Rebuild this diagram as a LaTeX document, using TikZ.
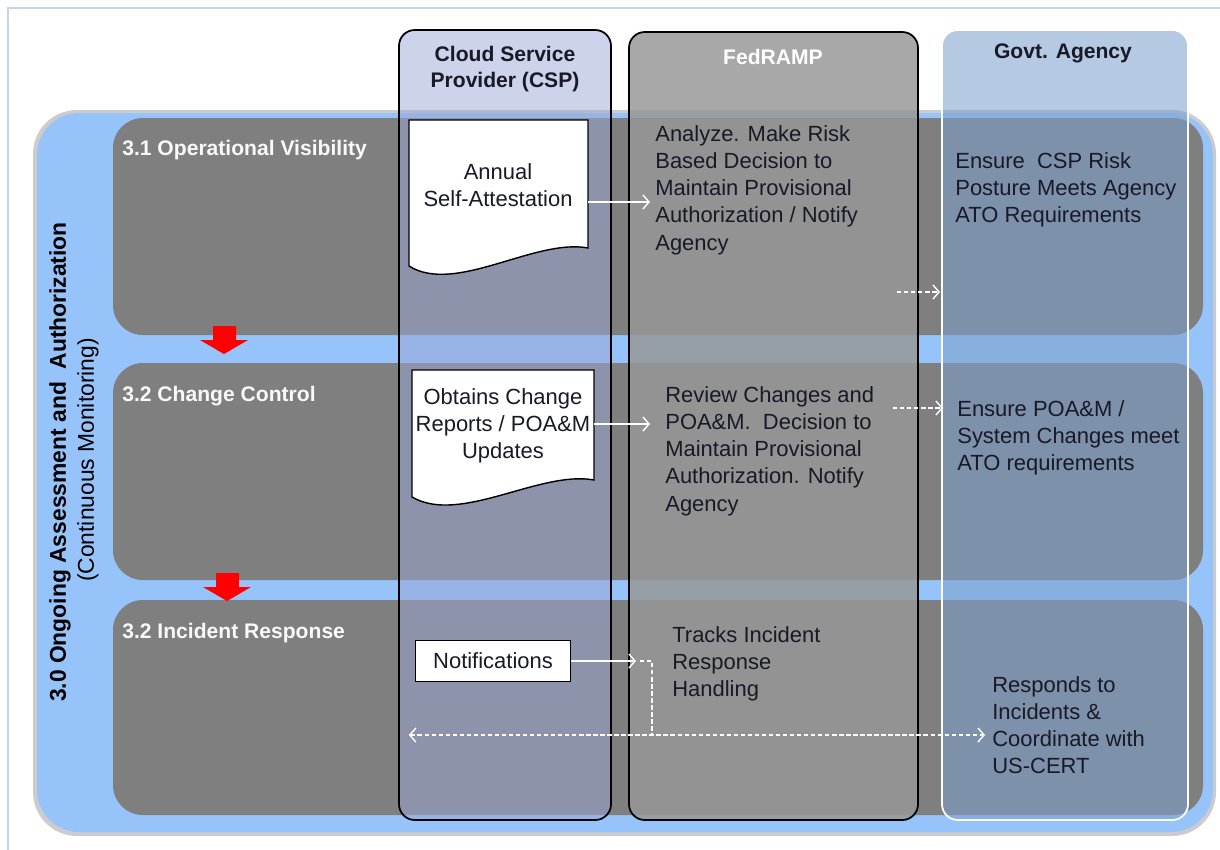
\documentclass[tikz,border=0pt]{standalone}
\usepackage{fontspec}
\setmainfont{Liberation Sans}
\usetikzlibrary{calc,arrows.meta}

\definecolor{laneblue}{RGB}{150,195,250}
\definecolor{lanegray}{RGB}{127,127,127}
\definecolor{cspfill}{RGB}{155,167,213}
\definecolor{fedfill}{RGB}{151,151,151}
\definecolor{govfill}{RGB}{125,160,204}
\definecolor{framecol}{RGB}{195,212,235}
\definecolor{inkcol}{RGB}{25,25,40}

\tikzset{
  lane/.style={fill=lanegray, rounded corners=17pt},
  lanetitle/.style={anchor=west, inner sep=0pt, text=white!95!gray, font=\fontsize{12}{15}\selectfont\bfseries},
  head/.style={inner sep=0pt, align=center, font=\fontsize{12}{15.3}\selectfont\bfseries},
  body/.style={anchor=north west, inner sep=0pt, align=left, text=inkcol, font=\fontsize{12.5}{15.5}\selectfont},
  doctext/.style={inner sep=0pt, align=center, text=inkcol, font=\fontsize{12.5}{15.3}\selectfont},
  docshape/.style={fill=white, draw=black, line width=0.8pt},
  flow/.style={->, draw=white, line width=0.8pt},
  flowdash/.style={->, draw=white, line width=0.8pt, dash pattern=on 2.5pt off 1.5pt}
}

\begin{document}
\begin{tikzpicture}[x=0.02cm, y=-0.02cm, >={Straight Barb[length=3.5pt,width=8pt]}]
\useasboundingbox (0,0) rectangle (1220,849);
% frame and main band
\draw[framecol, line width=1pt] (8,8) rectangle (1232,860);
\fill[gray!40, rounded corners=25pt] (33,110) rectangle (1216,836);
\fill[laneblue, rounded corners=24pt] (37,113) rectangle (1213,832);

% lanes
\fill[lane] (113,118) rectangle (1203,335);
\fill[lane] (113,363) rectangle (1203,580);
\fill[lane] (113,600) rectangle (1203,815);

% red step arrows
\foreach \ax/\ay in {224/326, 227/573}
  \fill[red] (\ax-11,\ay) -- (\ax+12,\ay) -- (\ax+12,\ay+14) -- (\ax+24,\ay+14)
    -- (\ax,\ay+28) -- (\ax-24,\ay+14) -- (\ax-11,\ay+14) -- cycle;

\node[lanetitle] (vis) at (122,150) {3.1 Operational Visibility};
\node[lanetitle] (chg) at (122,396) {3.2 Change Control};
\node[lanetitle] (inc) at (122,633) {3.2 Incident Response};

\node[rotate=90, inner sep=0pt, text=black, font=\fontsize{13}{15}\selectfont\bfseries] (phase) at (60,462) {3.0 Ongoing Assessment and \ Authorization};
\node[rotate=90, inner sep=0pt, text=black, font=\fontsize{13}{15}\selectfont] (cm) at (88,460) {(Continuous Monitoring)};

% swim columns
\filldraw[fill=cspfill, fill opacity=0.5, draw=black, line width=1pt, rounded corners=9pt] (399,30) rectangle (611,820);
\filldraw[fill=fedfill, fill opacity=0.84, draw=black, line width=1pt, rounded corners=9pt] (629,32) rectangle (918,820);
\filldraw[fill=govfill, fill opacity=0.57, draw=white, line width=1pt, rounded corners=9pt] (942,30) rectangle (1188,820);

\node[head, text=inkcol] (csphead) at (505,69) {Cloud Service\\Provider (CSP)};
\node[head, text=white] (fedhead) at (773,57) {FedRAMP};
\node[head, text=inkcol] (govhead) at (1063,53) {Govt. Agency};

% 3.1
\draw[docshape] (409,120) -- (588,120) -- (588,248) .. controls (535,238) and (455,295) .. (409,266) -- cycle;
\node[doctext, minimum width=3.58cm] (attest) at (498,185) {Annual\\Self-Attestation};
\node[body] (analyze) at (655,125) {Analyze. Make Risk\\Based Decision to\\Maintain Provisional\\Authorization / Notify\\Agency};
\node[body] (ensureA) at (955,152) {Ensure \ CSP Risk\\Posture Meets Agency\\ATO Requirements};
\draw[flow] ($(attest.east)+(0,17)$) -- ($(attest.east -| analyze.west)+(-5,17)$);
\coordinate (fedout1) at (897,292);
\draw[flowdash] (fedout1) -- ($(fedout1 -| ensureA.west)+(-15,0)$);

% 3.2
\draw[docshape] (412,370) -- (594,370) -- (594,480) .. controls (540,470) and (460,525) .. (412,497) -- cycle;
\node[doctext, minimum width=3.64cm] (obtains) at (503,426) {Obtains Change\\Reports / POA\&M\\Updates};
\node[body] (review) at (665,386) {Review Changes and\\POA\&M. \ Decision to\\Maintain Provisional\\Authorization. Notify\\Agency};
\node[body] (ensureB) at (957,400) {Ensure POA\&M /\\System Changes meet\\ATO requirements};
\draw[flow] ($(obtains.east)+(0,-2)$) -- ($(obtains.east -| review.west)+(-15,-2)$);
\coordinate (fedout2) at (893,408);
\draw[flowdash] (fedout2) -- ($(fedout2 -| ensureB.west)+(-14,0)$);

% incident
\node[doctext, draw=black, fill=white, line width=0.8pt, minimum width=3.1cm, minimum height=0.82cm] (notif) at (493,661) {Notifications};
\node[body] (tracks) at (672,626) {Tracks Incident\\Response\\Handling};
\node[body] (responds) at (992,676) {Responds to\\Incidents \&\\Coordinate with\\US-CERT};
\draw[flow] (notif.east) -- ($(notif.east -| tracks.west)+(-36,0)$);
\coordinate (relay) at (652,661);
\coordinate (hub) at (652,735);
\draw[white, line width=0.8pt, dash pattern=on 2.5pt off 1.5pt] ($(relay)+(-12,0)$) -- (relay) -- (hub);
\draw[<->, draw=white, line width=0.8pt, dash pattern=on 2.5pt off 1.5pt] ($(hub -| notif.west)+(-6,0)$) -- ($(hub -| responds.west)+(-7,0)$);
\end{tikzpicture}
\end{document}
